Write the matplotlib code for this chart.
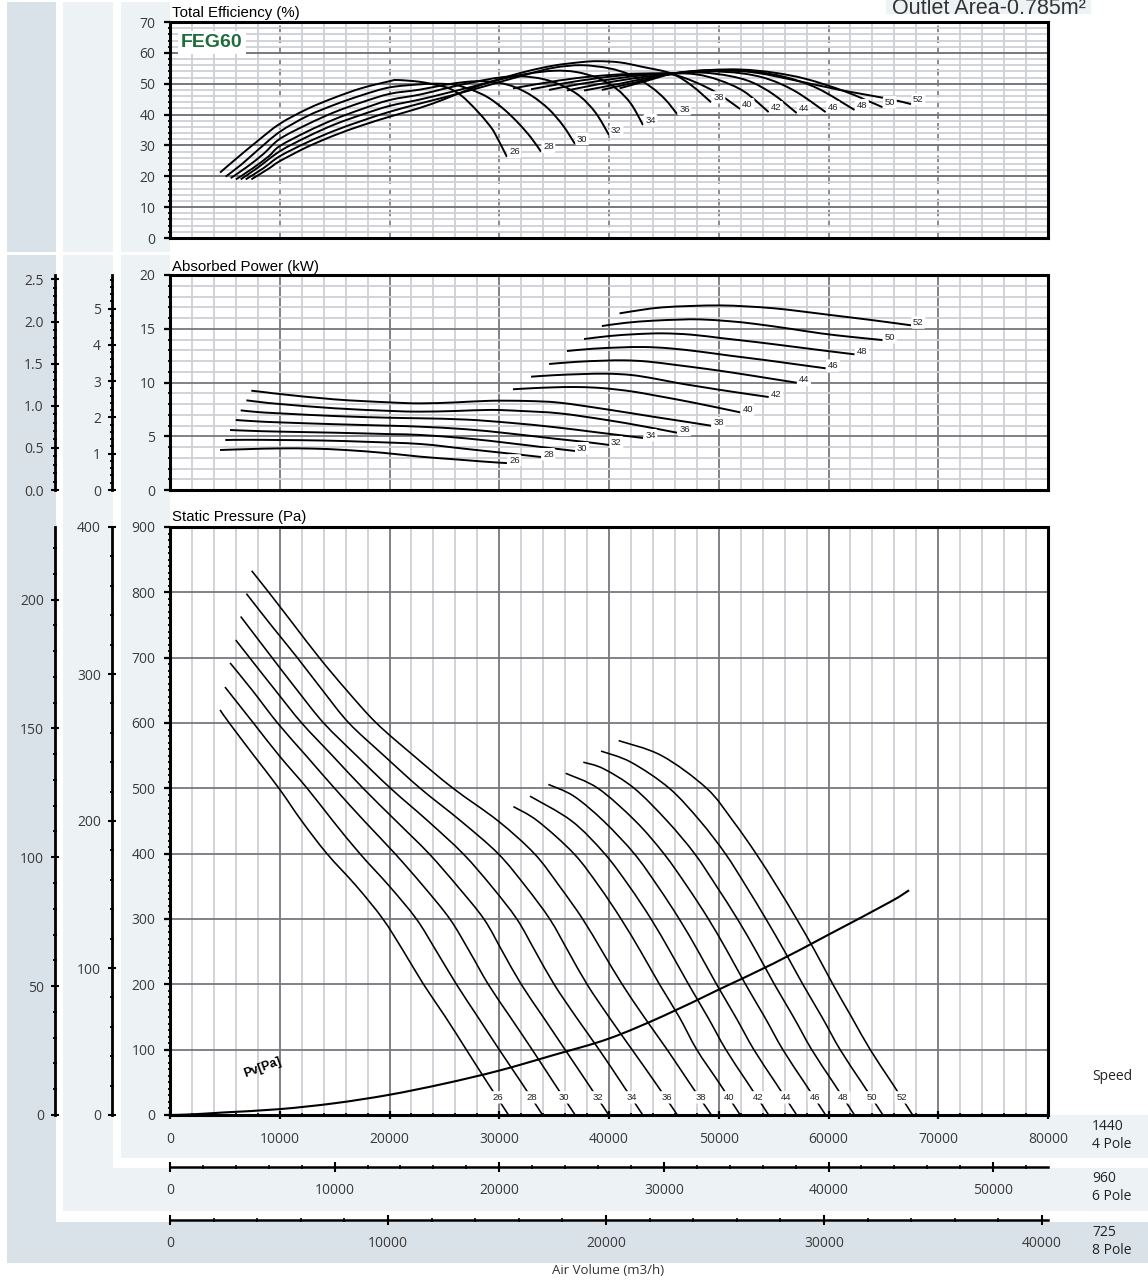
import numpy as np
import matplotlib
matplotlib.use("Agg")
import matplotlib.pyplot as plt
from matplotlib.patches import Rectangle, PathPatch
from matplotlib.path import Path
from matplotlib.ticker import MultipleLocator, FormatStrFormatter
from matplotlib import font_manager

# curve ids (printed next to every curve)
curve_ids = [26, 28, 30, 32, 34, 36, 38, 40, 42, 44, 46, 48, 50, 52]

# static pressure, flow in 1000 m3/h (4 pole, 1440 rpm), pressure in Pa
sp_flow = [
    [4.56, 5.4, 7.65, 9.93, 12.0, 14.3, 17.0, 19.4, 21.3, 23.1, 25.1, 27.0, 28.9, 30.85],
    [5.01, 7.6, 9.95, 12.5, 14.85, 17.3, 20.0, 22.45, 24.3, 26.1, 28.05, 30.0, 32.0, 33.95],
    [5.47, 7.5, 9.8, 12.4, 15.0, 17.7, 20.5, 23.1, 25.5, 27.3, 29.0, 31.0, 33.0, 34.95, 36.92],
    [5.99, 7.25, 9.6, 12.0, 14.8, 17.6, 20.6, 23.6, 26.2, 28.6, 30.3, 32.0, 34.0, 36.0, 38.0, 39.98],
    [6.44, 9.3, 11.6, 14.0, 17.0, 20.1, 23.5, 26.7, 29.3, 31.6, 33.3, 35.0, 37.0, 39.1, 41.1, 43.08],
    [6.96, 9.2, 11.6, 13.9, 16.3, 19.5, 22.8, 26.5, 29.9, 32.4, 34.6, 36.3, 38.0, 40.0, 42.1, 44.2, 46.23],
    [7.44, 9.0, 11.3, 13.6, 16.1, 18.8, 22.2, 25.8, 29.9, 33.2, 35.5, 37.6, 39.4, 41.2, 43.2, 45.3, 47.3, 49.33],
    [31.29, 33.5, 36.8, 39.1, 41.1, 42.9, 44.6, 46.4, 48.0, 50.0, 51.96],
    [32.8, 36.6, 39.6, 41.85, 43.83, 45.58, 47.25, 48.99, 50.65, 52.6, 54.55],
    [34.47, 36.8, 39.5, 42.3, 44.45, 46.4, 48.15, 49.8, 51.54, 53.2, 55.15, 57.1],
    [36.05, 39.0, 42.4, 45.0, 47.12, 49.06, 50.8, 52.44, 54.18, 55.84, 57.79, 59.74],
    [37.66, 39.5, 42.3, 45.3, 47.8, 49.8, 51.7, 53.43, 55.07, 56.81, 58.47, 60.42, 62.37],
    [39.27, 42.0, 45.5, 48.3, 50.6, 52.5, 54.3, 56.02, 57.66, 59.4, 61.06, 63.01, 64.96],
    [40.88, 44.8, 48.9, 51.3, 53.4, 55.3, 57.1, 58.8, 60.4, 62.1, 63.8, 65.75, 67.67],
]
sp_pa = [
    [620, 600, 550, 500, 450, 400, 350, 300, 250, 200, 150, 100, 50, 0],
    [655, 600, 550, 500, 450, 400, 350, 300, 250, 200, 150, 100, 50, 0],
    [692, 650, 600, 550, 500, 450, 400, 350, 300, 250, 200, 150, 100, 50, 0],
    [727, 700, 650, 600, 550, 500, 450, 400, 350, 300, 250, 200, 150, 100, 50, 0],
    [763, 700, 650, 600, 550, 500, 450, 400, 350, 300, 250, 200, 150, 100, 50, 0],
    [798, 750, 700, 650, 600, 550, 500, 450, 400, 350, 300, 250, 200, 150, 100, 50, 0],
    [833, 800, 750, 700, 650, 600, 550, 500, 450, 400, 350, 300, 250, 200, 150, 100, 50, 0],
    [472, 450, 400, 350, 300, 250, 200, 150, 100, 50, 0],
    [488, 450, 400, 350, 300, 250, 200, 150, 100, 50, 0],
    [506, 488, 450, 400, 350, 300, 250, 200, 150, 100, 50, 0],
    [523, 500, 450, 400, 350, 300, 250, 200, 150, 100, 50, 0],
    [540, 530, 500, 450, 400, 350, 300, 250, 200, 150, 100, 50, 0],
    [557, 540, 500, 450, 400, 350, 300, 250, 200, 150, 100, 50, 0],
    [573, 550, 500, 450, 400, 350, 300, 250, 200, 150, 100, 50, 0],
]

# absorbed power, kW
pw_flow = [
    [4.56, 7.0, 10.0, 13.0, 16.0, 19.5, 22.8, 26.0, 28.5, 30.7],
    [5.04, 7.0, 10.0, 14.0, 18.0, 22.8, 27.0, 30.85, 33.8],
    [5.47, 7.5, 10.0, 15.0, 20.0, 22.8, 27.0, 31.0, 34.0, 36.9],
    [5.99, 8.0, 10.0, 15.0, 20.0, 22.8, 27.0, 31.0, 35.0, 38.0, 40.0],
    [6.44, 8.0, 10.0, 15.0, 20.0, 22.8, 27.0, 31.0, 35.0, 39.0, 43.1],
    [6.96, 8.5, 10.0, 15.0, 20.0, 22.8, 26.0, 29.2, 32.0, 35.5, 39.8, 43.0, 46.2],
    [7.41, 9.0, 10.0, 15.0, 20.0, 22.8, 26.0, 29.2, 32.5, 35.5, 39.8, 44.0, 47.0, 49.3],
    [31.25, 33.0, 35.0, 36.8, 38.8, 40.6, 42.4, 44.0, 46.2, 48.3, 50.2, 51.96],
    [32.9, 35.0, 37.5, 39.8, 42.0, 44.0, 46.0, 48.3, 51.5, 54.55],
    [34.54, 37.0, 39.5, 41.45, 43.5, 46.1, 49.0, 51.7, 54.5, 57.1],
    [36.17, 38.5, 41.0, 43.2, 45.5, 48.3, 51.0, 54.2, 57.0, 59.74],
    [37.73, 40.0, 42.5, 44.9, 47.5, 50.4, 53.5, 56.8, 59.5, 62.37],
    [39.35, 41.5, 44.0, 46.5, 48.3, 51.0, 53.4, 56.5, 59.3, 62.0, 64.92],
    [40.96, 43.0, 44.87, 47.5, 50.18, 52.5, 55.07, 57.5, 60.17, 64.0, 67.52],
]
pw_kw = [
    [3.72, 3.8, 3.87, 3.85, 3.72, 3.45, 3.1, 2.85, 2.65, 2.5],
    [4.65, 4.67, 4.65, 4.6, 4.48, 4.28, 3.82, 3.4, 3.07],
    [5.58, 5.5, 5.43, 5.33, 5.2, 5.12, 4.8, 4.35, 3.98, 3.63],
    [6.51, 6.38, 6.29, 6.12, 5.98, 5.89, 5.65, 5.25, 4.78, 4.45, 4.19],
    [7.41, 7.25, 7.13, 6.88, 6.72, 6.67, 6.55, 6.25, 5.85, 5.35, 4.84],
    [8.34, 8.15, 8.0, 7.6, 7.36, 7.29, 7.35, 7.45, 7.35, 7.13, 6.51, 5.95, 5.33],
    [9.24, 9.05, 8.93, 8.43, 8.15, 8.06, 8.15, 8.3, 8.28, 8.12, 7.5, 6.82, 6.35, 5.98],
    [9.37, 9.47, 9.55, 9.58, 9.52, 9.36, 9.12, 8.83, 8.42, 8.0, 7.6, 7.22],
    [10.54, 10.68, 10.78, 10.82, 10.7, 10.39, 10.0, 9.61, 9.1, 8.65],
    [11.72, 11.92, 12.03, 12.06, 11.95, 11.63, 11.25, 10.85, 10.4, 9.98],
    [12.93, 13.14, 13.26, 13.3, 13.18, 12.87, 12.5, 12.09, 11.7, 11.32],
    [14.04, 14.32, 14.5, 14.57, 14.45, 14.11, 13.75, 13.33, 12.98, 12.62],
    [15.25, 15.55, 15.75, 15.85, 15.87, 15.7, 15.44, 15.0, 14.57, 14.25, 13.95],
    [16.43, 16.76, 16.99, 17.12, 17.17, 17.08, 16.9, 16.62, 16.28, 15.8, 15.32],
]

# total efficiency, %
eff_flow = [
    [4.56, 6.0, 8.0, 10.0, 12.5, 15.0, 17.5, 20.0, 20.7, 22.8, 24.5, 25.5, 26.6, 27.9, 29.0, 29.6, 30.7],
    [5.07, 6.5, 8.0, 10.0, 12.5, 15.0, 17.5, 20.0, 22.8, 24.5, 26.0, 27.5, 29.0, 30.5, 31.8, 32.9, 33.8],
    [5.53, 7.0, 8.5, 10.0, 12.5, 15.0, 17.5, 20.0, 22.8, 25.0, 27.0, 28.5, 30.0, 31.5, 33.0, 34.5, 35.8, 36.9],
    [6.01, 7.5, 9.0, 10.0, 12.5, 15.0, 17.5, 20.0, 22.8, 25.0, 27.5, 30.0, 32.0, 34.0, 35.8, 37.4, 38.8, 40.0],
    [6.44, 8.0, 10.0, 12.5, 15.0, 17.5, 20.0, 22.8, 25.0, 27.5, 30.0, 32.5, 35.0, 37.0, 39.0, 40.7, 42.0, 43.1],
    [6.9, 8.5, 10.0, 12.5, 15.0, 17.5, 20.0, 22.8, 25.0, 27.5, 30.0, 32.5, 35.0, 37.5, 40.0, 42.0, 43.8, 45.1, 46.2],
    [7.41, 9.0, 10.0, 12.5, 15.0, 17.5, 20.0, 22.8, 25.0, 27.5, 30.0, 32.5, 35.0, 37.5, 39.0, 41.0, 43.0, 45.7, 47.5, 49.3],
    [31.25, 34.0, 37.0, 40.0, 43.0, 45.7, 47.8, 49.9, 51.95],
    [32.9, 36.0, 39.0, 42.0, 45.7, 48.0, 50.0, 52.3, 54.55],
    [34.54, 37.5, 40.5, 43.0, 45.7, 48.5, 51.0, 53.0, 55.0, 57.1],
    [36.17, 39.0, 42.0, 45.7, 49.0, 52.0, 54.5, 57.0, 59.74],
    [37.73, 41.0, 44.0, 46.5, 50.0, 53.0, 56.0, 59.0, 62.37],
    [39.35, 42.5, 45.7, 49.0, 52.0, 55.0, 58.0, 61.5, 64.92],
    [40.96, 43.5, 45.7, 48.0, 50.5, 53.5, 56.8, 61.0, 65.2, 67.52],
]
eff_pct = [
    [21.2, 25.6, 31.5, 37.0, 41.8, 45.5, 48.6, 50.8, 51.2, 50.6, 49.4, 48.4, 46.0, 41.5, 37.0, 33.9, 26.3],
    [19.9, 23.8, 28.5, 34.4, 39.5, 43.2, 46.3, 48.8, 49.8, 50.0, 49.6, 48.0, 45.5, 41.5, 37.0, 32.5, 28.0],
    [19.4, 23.0, 27.2, 32.1, 36.8, 40.8, 44.0, 46.7, 48.1, 49.6, 50.6, 50.8, 50.3, 48.8, 46.0, 41.8, 36.5, 30.5],
    [19.0, 22.5, 26.5, 29.8, 34.5, 38.5, 41.8, 44.7, 46.5, 48.4, 50.4, 52.0, 52.4, 51.5, 49.3, 45.8, 40.5, 33.4],
    [19.0, 22.8, 28.1, 32.8, 36.8, 40.0, 42.8, 44.9, 46.8, 49.0, 51.3, 53.2, 54.2, 53.8, 51.8, 48.3, 43.5, 36.6],
    [19.0, 22.6, 26.5, 31.0, 34.8, 38.0, 40.9, 43.6, 45.6, 48.0, 50.5, 53.0, 55.2, 56.0, 55.0, 52.8, 49.0, 45.0, 40.2],
    [19.0, 22.5, 24.9, 29.5, 33.3, 36.5, 39.3, 42.2, 45.0, 48.5, 51.5, 54.0, 55.9, 57.0, 57.3, 56.9, 55.5, 53.3, 49.5, 44.0],
    [48.5, 50.2, 51.8, 52.8, 53.3, 53.0, 50.6, 46.9, 41.8],
    [48.2, 50.2, 51.8, 52.9, 53.4, 53.0, 51.2, 47.5, 40.8],
    [48.0, 50.0, 51.6, 52.7, 53.4, 53.6, 52.5, 50.5, 46.5, 40.5],
    [47.8, 49.8, 51.6, 53.3, 54.0, 53.4, 51.5, 47.5, 40.8],
    [47.8, 50.0, 52.2, 53.4, 54.2, 54.0, 52.2, 48.5, 41.5],
    [48.0, 50.5, 53.2, 54.4, 54.6, 53.6, 51.5, 47.5, 42.4],
    [48.5, 51.0, 53.2, 54.2, 54.4, 53.5, 51.2, 48.0, 45.3, 43.4],
]

# velocity pressure line
pv_flow = [0, 2, 5, 10, 15, 20, 25, 30, 35, 40, 45, 50, 55, 60, 65.6, 67.34]
pv_pa = [0, 1, 4, 9, 18, 31, 48, 68, 92, 117, 152, 192, 232, 276, 326, 344]

speeds = [1440, 960, 725]

installed = {f.name for f in font_manager.fontManager.ttflist}
narrow = "Liberation Sans Narrow" if "Liberation Sans Narrow" in installed else "Liberation Sans"
plt.rcParams['font.family'] = ['Open Sans', 'DejaVu Sans']

W, H = 1148, 1280
fig = plt.figure(figsize=(W / 100, H / 100), dpi=100)

DARK = '#dae2e9'
LIGHT = '#edf2f5'
GRID = '#77777f'
MINOR = '#cfd0d5'
TXT = '#3a3a3a'


def box(l, t, r, b):
    return [l / W, 1 - b / H, (r - l) / W, (b - t) / H]


def bg(l, t, r, b, color):
    fig.patches.append(Rectangle((l / W, 1 - b / H), (r - l) / W, (b - t) / H,
                                 transform=fig.transFigure, facecolor=color,
                                 edgecolor='none', zorder=-5))


def smooth_line(ax, x, y, lw):
    # excel style smoothed line through the points (catmull-rom bezier)
    pts = np.column_stack([x, y]).astype(float)
    n = len(pts)
    verts = [pts[0]]
    codes = [Path.MOVETO]
    for i in range(n - 1):
        p0 = pts[max(i - 1, 0)]
        p1 = pts[i]
        p2 = pts[i + 1]
        p3 = pts[min(i + 2, n - 1)]
        verts += [p1 + (p2 - p0) / 6, p2 - (p3 - p1) / 6, p2]
        codes += [Path.CURVE4] * 3
    ax.add_patch(PathPatch(Path(verts, codes), fill=False, lw=lw, ec='black',
                           zorder=3, capstyle='butt'))


# background columns / speed bands
bg(7, 2, 56, 252, DARK)
bg(7, 255, 56, 1263, DARK)
bg(7, 1222, 1148, 1263, DARK)
bg(63, 2, 113, 252, LIGHT)
bg(63, 255, 113, 1211, LIGHT)
bg(63, 1168, 1148, 1211, LIGHT)
bg(121, 2, 170, 252, LIGHT)
bg(121, 255, 170, 1158, LIGHT)
bg(121, 1115, 1148, 1158, LIGHT)
bg(886, 0, 1091, 14, LIGHT)


def main_axes(top, bottom, ymax, ymaj, ymin):
    ax = fig.add_axes(box(170, top, 1048, bottom))
    ax.set_xlim(0, 80000)
    ax.set_ylim(0, ymax)
    ax.xaxis.set_major_locator(MultipleLocator(10000))
    ax.xaxis.set_minor_locator(MultipleLocator(2000))
    ax.yaxis.set_major_locator(MultipleLocator(ymaj))
    ax.yaxis.set_minor_locator(MultipleLocator(ymin))
    ax.set_axisbelow(True)
    for s in ax.spines.values():
        s.set_linewidth(2.2)
        s.set_color('black')
    ax.tick_params(axis='y', which='major', direction='out', length=4.5, width=1.6,
                   labelsize=10, labelcolor=TXT, pad=6)
    ax.tick_params(axis='y', which='minor', direction='inout', length=2.5, width=1.3)
    ax.tick_params(axis='x', which='both', bottom=False, labelbottom=False)
    return ax


ax_e = main_axes(22, 238, 70, 10, 2)
ax_e.grid(which='minor', color=MINOR, lw=1.3)
ax_e.xaxis.grid(True, which='major', color=GRID, lw=1.2, ls=(0, (4, 2.5)))
ax_e.yaxis.grid(True, which='major', color=GRID, lw=1.4)

ax_w = main_axes(275, 490, 20, 5, 1)
ax_w.grid(which='minor', color=MINOR, lw=1.3)
ax_w.grid(which='major', color=GRID, lw=1.3)

ax_p = main_axes(527, 1115, 900, 100, 10)
ax_p.grid(which='minor', axis='x', color=MINOR, lw=1.3)
ax_p.grid(which='major', color=GRID, lw=1.3)
ax_p.tick_params(axis='x', which='major', bottom=True, labelbottom=True, direction='inout',
                 length=6, width=1.6, labelsize=10, labelcolor=TXT, pad=9)
ax_p.tick_params(axis='x', which='minor', bottom=True, direction='inout', length=2.5, width=1.2)
ax_p.xaxis.set_major_formatter(FormatStrFormatter('%d'))

lab_style = dict(fontsize=6.8, family=narrow, color='#222222', zorder=6,
                 bbox=dict(boxstyle='round,pad=0.18', fc='white', ec='none'))

for i, cid in enumerate(curve_ids):
    q = np.array(sp_flow[i]) * 1000
    smooth_line(ax_p, q, sp_pa[i], 1.15)
    ax_p.text(q[-1] - 1000, 27, str(cid), ha='center', va='center', **lab_style)

    q = np.array(pw_flow[i]) * 1000
    smooth_line(ax_w, q, pw_kw[i], 1.4)
    ax_w.annotate(str(cid), (q[-1], pw_kw[i][-1]), xytext=(1.5, 2), textcoords='offset points',
                  ha='left', va='center', **lab_style)

    q = np.array(eff_flow[i]) * 1000
    smooth_line(ax_e, q, eff_pct[i], 1.4)
    ax_e.annotate(str(cid), (q[-1], eff_pct[i][-1]), xytext=(1.5, 3.5), textcoords='offset points',
                  ha='left', va='center', **lab_style)

smooth_line(ax_p, np.array(pv_flow) * 1000, pv_pa, 1.5)
ax_p.text(8400, 73, 'Pv[Pa]', rotation=20, ha='center', va='center', fontsize=9,
          fontweight='bold', family='Liberation Sans', zorder=6)


def side_yaxis(px, top, bottom, ymax, major, minor, fmt):
    ax = fig.add_axes(box(px, top, px + 1, bottom))
    ax.set_ylim(0, ymax)
    ax.patch.set_visible(False)
    for k in ('top', 'right', 'bottom'):
        ax.spines[k].set_visible(False)
    ax.spines['left'].set_linewidth(2)
    ax.set_xticks([])
    ax.yaxis.set_major_locator(MultipleLocator(major))
    ax.yaxis.set_minor_locator(MultipleLocator(minor))
    ax.yaxis.set_major_formatter(FormatStrFormatter(fmt))
    ax.tick_params(axis='y', which='major', direction='inout', length=6, width=1.5,
                   labelsize=10, labelcolor=TXT, pad=5)
    ax.tick_params(axis='y', which='minor', direction='inout', length=2.5, width=1.3)
    return ax


def side_xaxis(py, xmax):
    ax = fig.add_axes(box(170, py - 1, 1048, py))
    ax.set_xlim(0, xmax)
    ax.patch.set_visible(False)
    for k in ('top', 'right', 'left'):
        ax.spines[k].set_visible(False)
    ax.spines['bottom'].set_linewidth(1.8)
    ax.set_yticks([])
    ax.xaxis.set_major_locator(MultipleLocator(10000))
    ax.xaxis.set_minor_locator(MultipleLocator(2000))
    ax.xaxis.set_major_formatter(FormatStrFormatter('%d'))
    ax.tick_params(axis='x', which='major', direction='inout', length=7, width=1.5,
                   labelsize=10, labelcolor=TXT, pad=8)
    ax.tick_params(axis='x', which='minor', direction='inout', length=3, width=1.2)
    return ax


r6 = speeds[1] / speeds[0]
r8 = speeds[2] / speeds[0]
side_yaxis(112, 275, 490, 20 * r6 ** 3, 1, 0.2, '%d')
side_yaxis(55, 275, 490, 20 * r8 ** 3, 0.5, 0.1, '%.1f')
side_yaxis(112, 527, 1115, 900 * r6 ** 2, 100, 20, '%d')
side_yaxis(55, 527, 1115, 900 * r8 ** 2, 50, 10, '%d')
side_xaxis(1167, 80000 * r6)
side_xaxis(1220, 80000 * r8)

# texts
fig.text(172 / W, 1 - 17 / H, 'Total Efficiency (%)', fontsize=10.8, family='Liberation Sans', va='baseline')
fig.text(172 / W, 1 - 271 / H, 'Absorbed Power (kW)', fontsize=10.8, family='Liberation Sans', va='baseline')
fig.text(172 / W, 1 - 521 / H, 'Static Pressure (Pa)', fontsize=10.8, family='Liberation Sans', va='baseline')
fig.text(892 / W, 1 - 13.5 / H, 'Outlet Area-0.785m²', fontsize=15.5, family='Liberation Sans',
         color='#333333', va='baseline')
ax_e.text(0.0125, 0.905, 'FEG60', transform=ax_e.transAxes, fontsize=14, fontweight='bold',
          family='Liberation Sans', color='#1e6e3c', va='center', ha='left', zorder=6,
          bbox=dict(boxstyle='square,pad=0.15', fc='white', ec='none'))

fig.text(1092 / W, 1 - 1076 / H, 'Speed', fontsize=10, color='#222222', va='center')
for sp, pole, py in zip(speeds, ['4 Pole', '6 Pole', '8 Pole'], [1126, 1178, 1232]):
    fig.text(1092 / W, 1 - py / H, str(sp), fontsize=10, color='#222222', va='center')
    fig.text(1092 / W, 1 - (py + 19) / H, pole, fontsize=10, color='#222222', va='center')
fig.text(608 / W, 1 - 1271 / H, 'Air Volume (m3/h)', fontsize=9.5, color='#333333',
         ha='center', va='center')

fig.savefig('out.png', dpi=100)
